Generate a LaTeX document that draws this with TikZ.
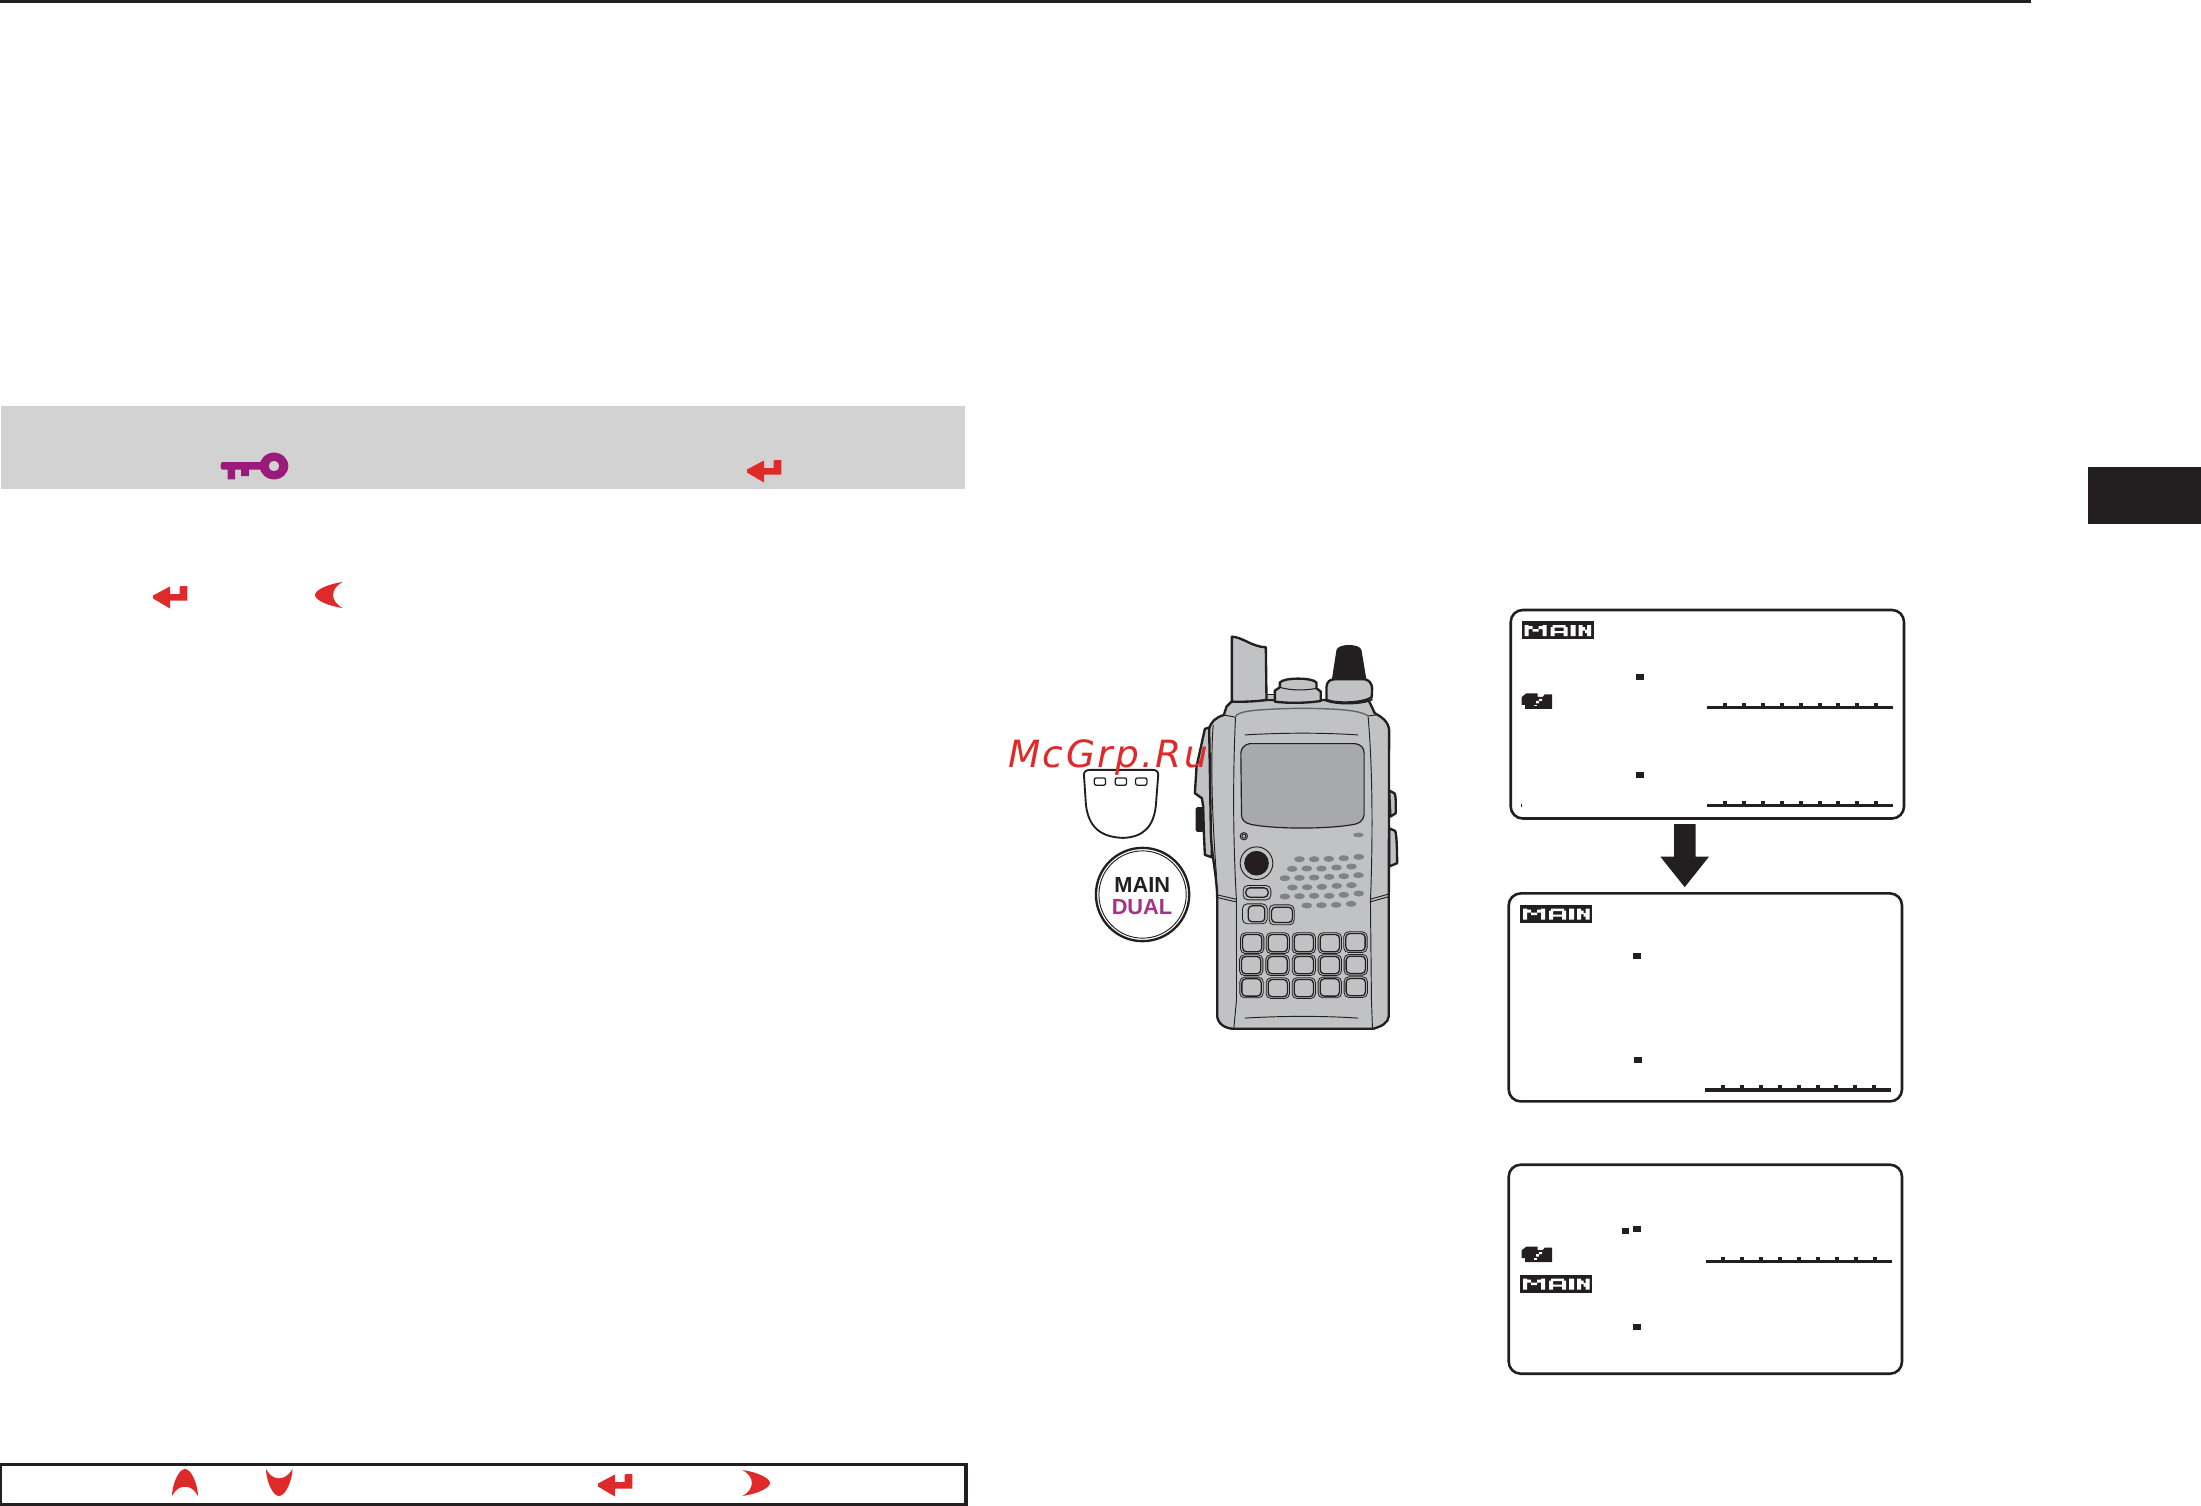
\documentclass[tikz,border=0pt]{standalone}
\usepackage{fontspec}
\newfontfamily\wmfont[LetterSpace=6.5]{DejaVu Sans}
\newfontfamily\lblfont{Liberation Sans}
\definecolor{ink}{HTML}{231F20}
\definecolor{band}{HTML}{D2D2D2}
\definecolor{iconred}{HTML}{DE2A28}
\definecolor{iconpurple}{HTML}{9B1B7C}
\definecolor{bodygrey}{HTML}{C1C2C3}
\definecolor{screengrey}{HTML}{A7A9AC}
\definecolor{holegrey}{HTML}{808285}
\tikzset{
  x=0.03cm,y=-0.03cm,
  lcdbox/.style={draw=ink,line width=2.2pt,rounded corners=0.36cm},
  heavy/.style={draw=ink,line width=2pt,line join=round,fill=bodygrey},
  fine/.style={draw=ink,line width=0.8pt},
  keyouter/.style={draw=ink,line width=0.7pt,rounded corners=0.14cm},
  keyinner/.style={draw=ink,line width=1.1pt,rounded corners=0.12cm},
  maintag/.pic={
    \fill[ink] (0,0) rectangle (72,18);
    \fill[white] (3,4) rectangle (7,15) (21,4) rectangle (25,15)
      (7,5) rectangle (11,8) (17,5) rectangle (21,8) (11,8) rectangle (17,10.5)
      (29,6) rectangle (33,15) (42,6) rectangle (46,15) (31,4) rectangle (44,6.5) (33,10) rectangle (42,12)
      (49,4) rectangle (54,15)
      (57,4) rectangle (61,15) (65.5,4) rectangle (69.5,15) (61,6) rectangle (63.5,9.5) (63.5,8.5) rectangle (65.5,12);
  },
  battery/.pic={
    \fill[ink] (0,3.6) -- (4.5,0) -- (16,0) -- (16,3.5) -- (21,3.5) -- (23,1) -- (30.5,1) -- (30.5,15.5) -- (3.5,15.5) -- (3.5,11.5) -- (0,11.5) -- cycle;
    \fill[white] (14.5,7.5) rectangle (17.5,10) (17.5,5.5) rectangle (20.5,7.5);
    \fill[white] (12.5,11.5) rectangle (15,13);
  },
  lcdruler/.pic={
    \fill[ink] (0,0) rectangle (186,3.4);
    \foreach \i in {0,...,8}{\fill[ink] (15.4+18.96*\i,-3) rectangle (19.4+18.96*\i,0);}
  },
  returnicon/.pic={
    \fill[iconred] (0,9.5) -- (17,0.5) -- (17,8) -- (26.5,8) -- (26.5,1) -- (28,0) -- (34.4,0) -- (34.4,14.7) -- (17,14.7) -- (17,22.5) -- (0,12.5) -- cycle;
  },
  dotsq/.style={fill=ink}
}
\begin{document}
\begin{tikzpicture}
\path[use as bounding box] (0,0) rectangle (2201,1506);

% page furniture
\fill[ink] (0,0) rectangle (2031,3.4);
\fill[band] (1,406) rectangle (964.5,488.7);
\fill[ink] (2088,467) rectangle (2201,524);
\draw[ink,line width=2.8pt] (0,1464.7) rectangle (966,1504.5);

% key icon
\fill[iconpurple] (222,462) -- (262,462) -- (262,469.7) -- (249,469.7) -- (249,476) -- (241,476) -- (241,469.7) -- (235,469.7) -- (235,479.3) -- (227.5,479.3) -- (227.5,469.7) -- (222,469.7) .. controls (220,468) and (220,464) .. (222,462) -- cycle;
\fill[iconpurple,even odd rule] (274,466) ellipse [x radius=14.3,y radius=13.4] (274,466) ellipse [x radius=5.3,y radius=5.3];

% return and cursor icons
\pic at (747,460) {returnicon};
\pic at (153,586) {returnicon};
\pic at (598,1474) {returnicon};
\fill[iconred] (342.5,582) .. controls (328,584) and (315,590) .. (315,595) .. controls (315,600) and (328,606) .. (342.5,608) .. controls (330,601) and (330,589) .. (342.5,582) -- cycle;
\fill[iconred] (185,1469) .. controls (178,1469) and (172,1486) .. (172,1496) .. controls (176,1489) and (180,1486.7) .. (185,1486.7) .. controls (190,1486.7) and (194,1489) .. (198,1496) .. controls (198,1486) and (192,1469) .. (185,1469) -- cycle;
\fill[iconred] (279,1496) .. controls (272,1496) and (266,1479) .. (266,1469) .. controls (270,1476) and (274,1478.3) .. (279,1478.3) .. controls (284,1478.3) and (288,1476) .. (292.5,1469) .. controls (292.5,1479) and (286,1496) .. (279,1496) -- cycle;
\fill[iconred] (742.5,1470) .. controls (757,1472) and (770,1478) .. (770,1483) .. controls (770,1488) and (757,1494) .. (742.5,1496) .. controls (755,1489) and (755,1477) .. (742.5,1470) -- cycle;

% LCD 1
\path[lcdbox] (1510.7,610) rectangle (1904,818.5);
\pic at (1521.7,621) {maintag};
\pic at (1521.7,693.4) {battery};
\fill[dotsq] (1636,673.8) rectangle (1644,680);
\fill[dotsq] (1636,772) rectangle (1644,778);
\fill[dotsq] (1521,804) rectangle (1522,807);
\pic at (1707.3,705.6) {lcdruler};
\pic at (1707.3,803.8) {lcdruler};

% arrow
\fill[ink] (1674,824) -- (1695.7,824) -- (1695.7,856.6) -- (1709,856.6) -- (1684.7,887.2) -- (1660.3,856.6) -- (1674,856.6) -- cycle;

% LCD 2
\path[lcdbox] (1508.7,893.4) rectangle (1902,1101.4);
\pic at (1520,904.5) {maintag};
\fill[dotsq] (1633,953) rectangle (1641,959.3);
\fill[dotsq] (1634,1056.6) rectangle (1642,1062.8);
\pic at (1705.3,1088.3) {lcdruler};

% LCD 3
\path[lcdbox] (1508.7,1164.7) rectangle (1902,1373.7);
\fill[dotsq] (1622,1228) rectangle (1629,1234);
\fill[dotsq] (1633,1226) rectangle (1641,1232);
\pic at (1521.7,1246.7) {battery};
\pic at (1706,1260) {lcdruler};
\pic at (1520,1274.7) {maintag};
\fill[dotsq] (1633,1324) rectangle (1641,1330);

% radio, in coordinates of a 3x enlargement
\begin{scope}[shift={(950,600)},x=0.01cm,y=-0.01cm]
  % side buttons
  \path[heavy] (1318,572) -- (1334,580) .. controls (1338,585) and (1338,600) .. (1338,640) -- (1322,650) -- cycle;
  \path[heavy] (1318,685) -- (1336,693) .. controls (1340,700) and (1342,740) .. (1342,790) -- (1318,800) -- cycle;
  \path[heavy] (765,387) -- (740,500) -- (735,580) -- (756,595) -- (760,620) -- (762,700) -- (765,765) -- (785,772) -- (800,500) -- (785,380) -- cycle;
  \fill[ink,rounded corners=0.05cm] (737,622) rectangle (762,696);
  % body
  \path[heavy] (845,305) -- (830,320) -- (822,345) .. controls (800,352) and (780,365) .. (778,390) -- (783,700) .. controls (785,770) and (802,830) .. (802,900) -- (802,1250) .. controls (805,1275) and (830,1287) .. (852,1287) -- (1270,1287) .. controls (1295,1280) and (1315,1270) .. (1317,1250) -- (1317,960) -- (1318,390) .. controls (1316,365) and (1295,350) .. (1275,340) -- (1262,312) -- (1255,300) -- (850,300) -- cycle;
  % antenna and knobs
  \path[draw=ink,line width=1.3pt,fill=bodygrey] (948,283) rectangle (978,298);
  \path[heavy] (846,305) -- (846,110) .. controls (880,112) and (905,140) .. (948,142) -- (950,300) .. controls (915,305) and (880,306) .. (846,305) -- cycle;
  \path[heavy] (975,305) -- (975,272) -- (990,262) -- (990,248) .. controls (1000,232) and (1090,232) .. (1100,248) -- (1100,265) -- (1113,275) -- (1113,303) .. controls (1070,310) and (1010,310) .. (975,305) -- cycle;
  \draw[ink,line width=0.9pt] (990,262) .. controls (1020,272) and (1070,272) .. (1100,265);
  \fill[ink] (1146,240) -- (1160,150) .. controls (1165,130) and (1230,130) .. (1235,150) -- (1250,240) -- cycle;
  \path[heavy] (1130,300) -- (1130,260) .. controls (1132,245) and (1140,238) .. (1155,238) -- (1245,238) .. controls (1258,240) and (1266,250) .. (1267,265) -- (1266,292) .. controls (1240,310) and (1160,312) .. (1130,300) -- cycle;
  \draw[ink,line width=1.4pt] (1125,300) .. controls (1150,315) and (1240,315) .. (1268,298);
  % inner lines of the case
  \draw[fine] (857,352) .. controls (850,500) and (848,700) .. (860,905) -- (860,1200) -- (852,1285);
  \draw[fine] (1255,350) .. controls (1268,500) and (1270,700) .. (1262,905) -- (1265,1200) -- (1268,1285);
  \draw[draw=holegrey!70!ink,line width=1.2pt] (857,350) .. controls (865,335) and (900,328) .. (1050,325) .. controls (1180,326) and (1230,332) .. (1256,348);
  \draw[fine] (822,345) -- (857,352) (1256,348) -- (1278,345);
  \draw[fine] (790,375) .. controls (780,500) and (790,700) .. (800,830);
  \draw[fine] (885,405) .. controls (1000,398) and (1120,398) .. (1225,405);
  \draw[fine] (885,1255) .. controls (1000,1248) and (1120,1248) .. (1225,1255);
  \draw[fine] (802,885) -- (858,898) (802,893) -- (858,906);
  \draw[fine] (1262,898) -- (1315,883) (1262,906) -- (1315,891);
  % screen
  \path[draw=ink,line width=1pt,fill=screengrey] (900,431) -- (1215,431) .. controls (1235,433) and (1243,445) .. (1243,460) -- (1243,645) .. controls (1240,665) and (1225,672) .. (1210,674) .. controls (1130,688) and (980,688) .. (905,674) .. controls (885,670) and (875,660) .. (875,645) -- (873,460) .. controls (873,445) and (885,433) .. (900,431) -- cycle;
  % small details
  \draw[fine] (882,709) circle [radius=11];
  \draw[fine] (882,709) circle [radius=6];
  \fill[holegrey] (1226,705) ellipse [x radius=16,y radius=7];
  \draw[fine] (920,790) circle [radius=49];
  \fill[ink] (920,790) circle [radius=37];
  % speaker
  \foreach \hx/\hy in {1049/778,1093/778,1137/777,1182/775,1227/771,
    1027/807,1071/806,1115/806,1160/803,1205/800,
    1005/835,1049/834,1093/833,1138/831,1182/829,1226/826,
    1028/863,1072/862,1116/861,1161/858,1205/856,
    1005/890,1049/889,1093/888,1138/888,1182/885,1227/881,
    1071/917,1115/916,1159/915,1204/912}{
    \fill[holegrey] (\hx,\hy) ellipse [x radius=16,y radius=9];
  }
  % upper buttons
  \path[keyouter] (880,857) rectangle (963,900);
  \path[keyinner] (888,864) rectangle (955,892);
  \path[keyouter] (878,912) rectangle (952,972);
  \path[keyinner] (895,918) rectangle (945,966);
  \path[keyouter] (958,915) rectangle (1033,975);
  \path[keyinner] (965,922) rectangle (1028,968);
  % keypad
  \foreach \kx/\ky in {907/1030,984/1030,1062/1030,1140/1030,1217/1027,
    904/1096,983/1096,1062/1096,1140/1096,1218/1095,
    905/1163,984/1165,1062/1165,1140/1163,1218/1162}{
    \path[keyouter] (\kx-35,\ky-31) rectangle (\kx+35,\ky+31);
    \path[keyinner] (\kx-29,\ky-26) rectangle (\kx+29,\ky+26);
  }
  % key cap enlargement
  \path[draw=ink,line width=1.6pt,fill=white] (402,525) .. controls (402,514) and (410,510) .. (420,510) -- (608,510) .. controls (620,510) and (625,515) .. (625,525) -- (618,615) .. controls (612,680) and (580,712) .. (520,714) .. controls (450,712) and (416,680) .. (408,615) -- cycle;
  \foreach \cx in {450,513,574}{
    \path[draw=ink,line width=1.1pt,rounded corners=0.06cm] (\cx-17,534) rectangle (\cx+17,556);
  }
  % round key
  \draw[ink,line width=2pt] (578,884) circle [radius=140];
  \draw[ink,line width=0.8pt] (578,884) circle [radius=131];
\end{scope}

\node[font=\lblfont\bfseries\fontsize{18.6}{20}\selectfont,text=ink,inner sep=0,anchor=base] (mainlabel) at (1142.3,892.7) {MAIN};
\node[font=\lblfont\bfseries\fontsize{18.6}{20}\selectfont,text=iconpurple!90!white,inner sep=0,anchor=base] (duallabel) at (1142,914) {DUAL};
\node[font=\wmfont\itshape\fontsize{32}{36}\selectfont,text=iconred,inner sep=0,anchor=base west] (watermark) at (1008,767) {McGrp.Ru};
\end{tikzpicture}
\end{document}
